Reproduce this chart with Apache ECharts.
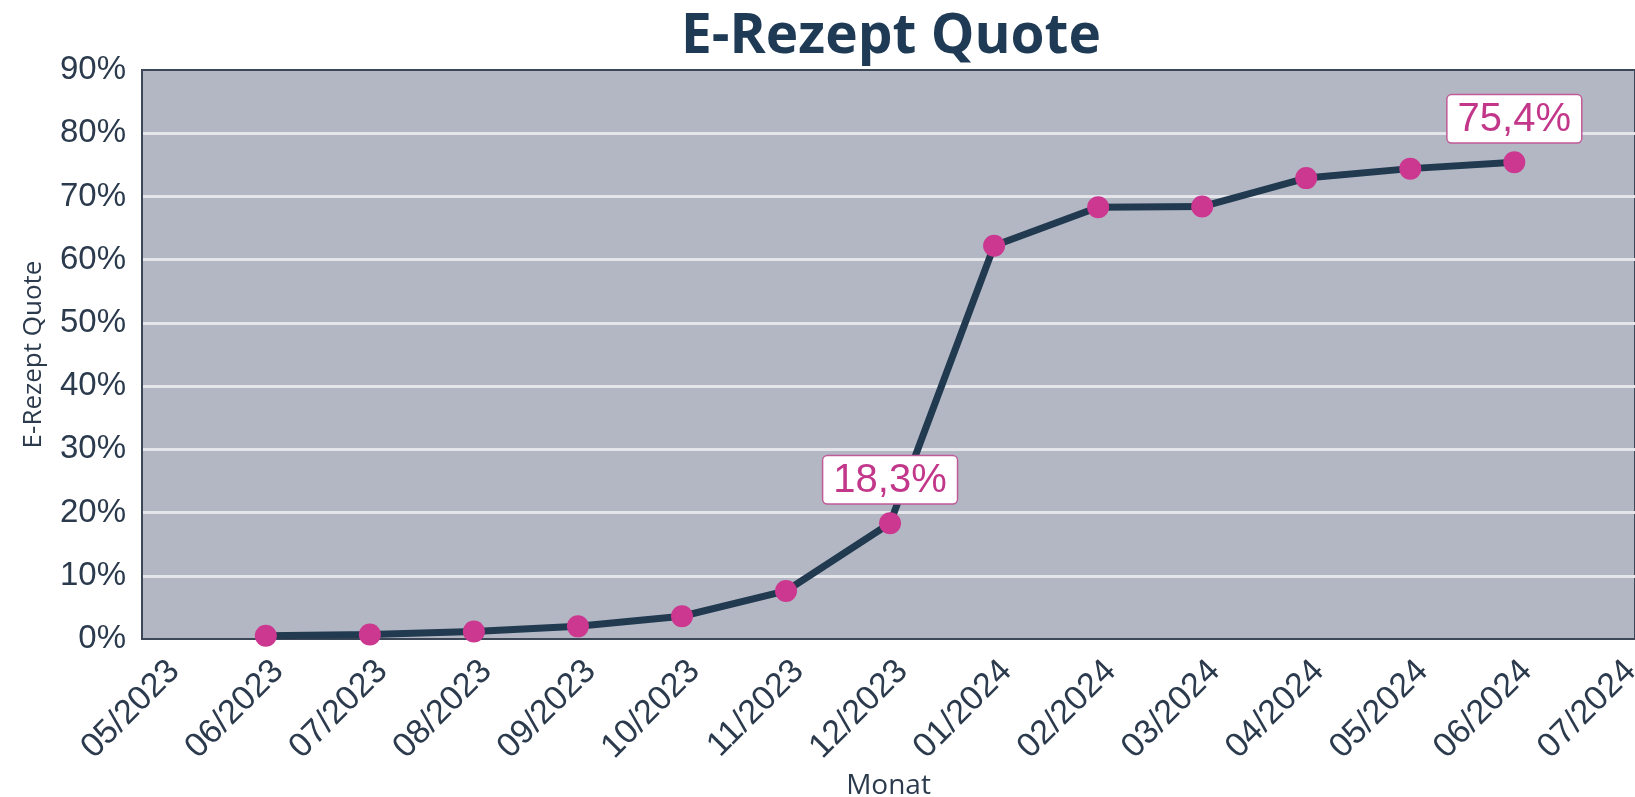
<!DOCTYPE html>
<html>
<head>
<meta charset="utf-8">
<script src="https://cdn.jsdelivr.net/npm/echarts@6/dist/echarts.min.js"></script>
<style>
html,body{margin:0;padding:0;background:#fff;}
#c{width:1635px;height:797px;}
</style>
</head>
<body>
<div id="c"></div>
<script>
// ---- data ----
const monthLabels = ['05/2023','06/2023','07/2023','08/2023','09/2023','10/2023','11/2023','12/2023','01/2024','02/2024','03/2024','04/2024','05/2024','06/2024','07/2024'];
const dataMonthIndex = [1,2,3,4,5,6,7,8,9,10,11,12,13];
const quoteValues = [0.5,0.7,1.2,2.0,3.6,7.6,18.3,62.2,68.3,68.4,72.9,74.4,75.4];
const labelledIndex = [6, 12]; // 12/2023 and 06/2024
const yTicks = [0,10,20,30,40,50,60,70,80,90];

const textColor = '#2b3a4c';
const magenta = '#cc3790';
const labelShift = 0.12; // month labels sit slightly right of their month position

const seriesData = quoteValues.map((v, i) => {
  const item = { value: [dataMonthIndex[i], v] };
  if (labelledIndex.includes(i)) {
    item.label = {
      show: true,
      position: 'top',
      distance: 9,
      formatter: () => v.toFixed(1).replace('.', ',') + '%',
      fontFamily: 'Liberation Sans',
      fontSize: 40,
      color: '#c2378a',
      backgroundColor: '#ffffff',
      borderColor: '#c05a98',
      borderWidth: 1.5,
      borderRadius: 4,
      padding: [3, 10, 1, 10],
      lineHeight: 43
    };
  }
  return item;
});

const chart = echarts.init(document.getElementById('c'), null, { renderer: 'canvas' });
chart.setOption({
  animation: false,
  title: {
    text: 'E-Rezept Quote',
    left: 886,
    textAlign: 'center',
    top: 5,
    textStyle: { fontFamily: 'Open Sans', fontWeight: 'bold', fontSize: 55, color: '#1f3a55' }
  },
  grid: {
    left: 142, right: 0, top: 70, bottom: 158,
    containLabel: false,
    outerBoundsMode: 'none',
    show: true,
    backgroundColor: '#b3b7c3',
    borderColor: '#3c4758',
    borderWidth: 2
  },
  xAxis: {
    type: 'value',
    min: -0.19,
    max: 14.16,
    name: 'Monat',
    nameLocation: 'middle',
    nameGap: 125,
    nameTextStyle: { fontFamily: 'Open Sans', fontSize: 28, color: textColor },
    splitLine: { show: false },
    axisLine: { show: true, onZero: false, lineStyle: { color: '#3c4758', width: 2 } },
    axisTick: { show: false },
    axisLabel: {
      customValues: monthLabels.map((_, i) => i + labelShift),
      formatter: (val) => monthLabels[Math.round(val - labelShift)] || '',
      rotate: 45,
      margin: 27,
      hideOverlap: false,
      fontFamily: 'Liberation Sans',
      fontSize: 34,
      color: textColor
    }
  },
  yAxis: {
    type: 'value',
    min: 0, max: 90, interval: 10,
    name: 'E-Rezept Quote',
    nameLocation: 'middle',
    nameRotate: 90,
    nameGap: 95,
    nameTextStyle: { fontFamily: 'Open Sans', fontSize: 26, color: textColor },
    axisLine: { show: true, onZero: false, lineStyle: { color: '#3c4758', width: 2 } },
    axisTick: { show: false },
    axisLabel: {
      formatter: (v) => yTicks.includes(v) ? v + '%' : '',
      margin: 16,
      fontFamily: 'Liberation Sans',
      fontSize: 33,
      color: textColor
    },
    splitLine: { show: true, showMinLine: false, showMaxLine: false, lineStyle: { color: '#e3e5eb', width: 3 } }
  },
  series: [{
    type: 'line',
    data: seriesData,
    symbol: 'circle',
    symbolSize: 22,
    clip: true,
    lineStyle: { color: '#213a50', width: 7 },
    itemStyle: { color: magenta },
    z: 3
  }]
});
</script>
</body>
</html>
